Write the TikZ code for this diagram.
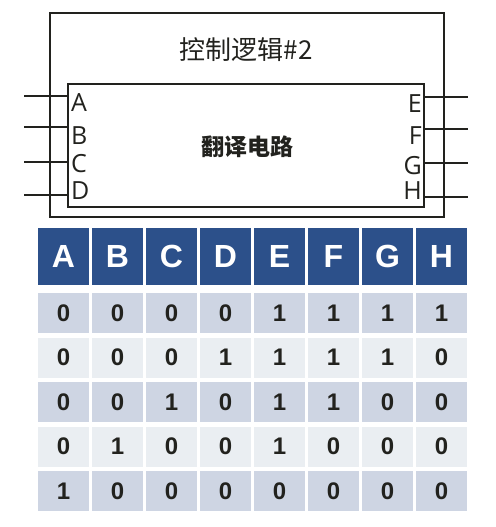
\documentclass[tikz,border=0pt]{standalone}
\usepackage{fontspec}
\setmainfont{Open Sans}
\newfontfamily\cjk{Noto Sans CJK SC}
\newfontfamily\tabfont{Liberation Sans}
\definecolor{headblue}{RGB}{44,80,138}
\definecolor{rowdark}{RGB}{206,213,227}
\definecolor{rowlight}{RGB}{234,238,242}
\definecolor{ink}{RGB}{34,34,30}
\begin{document}
\begin{tikzpicture}[x=1pt,y=-1pt,
   box/.style={draw=ink,line width=2.7pt,inner sep=0pt},
   pin/.style={draw=ink,line width=2.5pt},
   pinlabel/.style={text=ink,inner sep=0pt,font=\fontsize{25}{25}\selectfont},
   head/.style={fill=headblue,text=white,inner sep=0pt,minimum width=51pt,minimum height=57pt,
     font=\tabfont\bfseries\fontsize{32}{32}\selectfont},
   cell/.style={inner sep=0pt,minimum width=51pt,minimum height=40pt,text=ink,
     font=\tabfont\bfseries\fontsize{24}{24}\selectfont}]
   \useasboundingbox (0,0) rectangle (495,527);

   % Draw the two boxes
   \node [box,minimum width=394pt,minimum height=204pt] (ctrl) at (247,115) {};
   \node [box,fill=white,minimum width=356pt,minimum height=123pt] (trans) at (246,145.5) {};
   \node [text=ink,font=\cjk\fontsize{26}{26}\selectfont] (ctrltitle) at (246,50) {控制逻辑\#2};
   \node [text=ink,font=\cjk\bfseries\fontsize{23}{23}\selectfont] (transtitle) at (247,147) {翻译电路};

   % Pins
   \foreach \n/\y in {A/96,B/127,C/162,D/195} {
     \coordinate (in\n) at (24,\y);
     \draw [pin] (in\n) -- (in\n -| trans.west);
   }
   \foreach \n/\y in {E/97,F/129,G/163,H/197} {
     \coordinate (out\n) at (468,\y);
     \draw [pin] (trans.east |- out\n) -- (out\n);
   }
   \foreach \n/\y in {A/102.5,B/136,C/164,D/191}
     \node [pinlabel,anchor=west] (lbl\n) at (71,\y) {\n};
   \foreach \n/\y in {E/104,F/136,G/166,H/191}
     \node [pinlabel,anchor=east] (lbl\n) at (422,\y) {\n};

   % Truth table
   \foreach \h [count=\c] in {A,B,C,D,E,F,G,H}
     \node [head] (head-\c) at (63.5+54*\c-54,256.5) {\h};
   \foreach \vals [count=\r] in {{0,0,0,0,1,1,1,1},{0,0,0,1,1,1,1,0},{0,0,1,0,1,1,0,0},
                                  {0,1,0,0,1,0,0,0},{1,0,0,0,0,0,0,0}} {
     \ifodd\r \def\rowclr{rowdark}\else\def\rowclr{rowlight}\fi
     \foreach \v [count=\c] in \vals
       \node [cell,fill=\rowclr] (cell-\r-\c) at (63.5+54*\c-54,313+44.5*\r-44.5) {\v};
   }
\end{tikzpicture}
\end{document}
